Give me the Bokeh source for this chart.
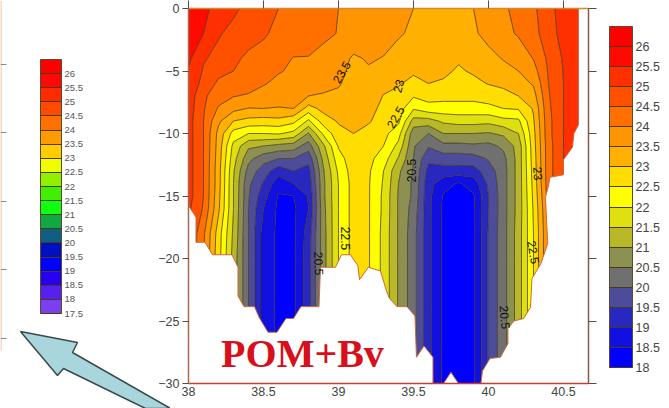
from bokeh.plotting import figure
from bokeh.embed import file_html
from bokeh.resources import INLINE
from bokeh.core.properties import value
from bokeh.models import (ColorBar, LinearColorMapper, FixedTicker, LinearAxis, Range1d,
                          NumeralTickFormatter, ColumnDataSource)
import numpy as np

lons = [38.0, 38.1, 38.2, 38.3, 38.4, 38.5, 38.6, 38.7, 38.8, 38.9, 39.0, 39.1, 39.2, 39.3,
        39.4, 39.5, 39.6, 39.7, 39.8, 39.9, 40.0, 40.1, 40.2, 40.3, 40.4, 40.5, 40.6]
depths = [0, -2, -4, -5, -6, -7, -8, -9, -10, -11, -12, -13, -14, -15, -16, -18, -20, -24, -30]

T_380 = [25.8,25.8,25.6,25.45,25.35,25.3,25.25,25.2,25.2,25.2,25.2,25.2,25.2,25.2,25.1,25,25,25,25]
T_381 = [25.6,25.5,25.05,24.95,24.85,24.6,24.55,24.5,24.5,24.5,24.5,24.5,24.5,24.5,24.45,24.1,24,24,24]
T_382 = [25.35,25.05,24.85,24.65,24.4,24.2,23.95,23.6,23.35,23.3,23.25,23.2,23.2,23.15,23.1,22.75,22.7,22.7,22.7]
T_383 = [25.1,24.85,24.6,24.5,24.3,24.02,23.65,23,22.3,21.85,21.7,21.55,21.5,21.5,21.5,21.4,21.3,21.3,21.3]
T_384 = [24.85,24.7,24.4,24.35,24.2,23.95,23.48,22.85,22,21.1,20.65,20.3,20.1,20.05,20,20,20,20,20]
T_385 = [24.7,24.55,24.35,24.2,24.05,23.75,23.5,22.8,22,21,20.2,19.75,19.45,19.2,19,18.8,18.8,18.8,18.8]
T_386 = [24.5,24.4,24.15,24.05,23.85,23.65,23.48,22.85,22.05,20.85,20,19.2,18.7,18.45,18.4,18.4,18.4,18.4,18.4]
T_387 = [24.4,24.3,23.98,23.9,23.75,23.6,23.5,22.65,21.85,20.75,20,19.5,19.0,18.5,18.4,18.4,18.4,18.4,18.4]
T_388 = [24.25,24.2,23.98,23.85,23.65,23.5,22.8,21.9,20.95,20.25,19.65,19.35,19.2,19.05,19,19.25,19.3,19.3,19.3]
T_389 = [24.12,24.1,23.85,23.8,23.65,23.45,23.15,22.75,22.1,21.4,21.15,20.95,20.9,20.9,20.85,20.8,20.8,20.8,20.8]
T_390 = [24,23.98,23.75,23.65,23.55,23.4,23.2,23.05,22.85,22.55,22.3,22.1,22,22,22,22,22,22,22]
T_391 = [23.9,23.88,23.42,23.35,23.3,23.25,23.2,23.1,23,22.9,22.8,22.75,22.7,22.7,22.7,22.7,22.7,22.7,22.7]
T_392 = [23.8,23.78,23.55,23.45,23.35,23.3,23.2,23.05,22.85,22.8,22.65,22.58,22.55,22.55,22.55,22.55,22.55,22.55,22.55]
T_393 = [23.7,23.68,23.48,23.3,23.15,22.98,22.85,22.8,22.65,22.5,22.25,22,21.95,21.9,21.9,21.85,21.85,21.85,21.85]
T_394 = [23.6,23.55,23.32,23.18,23.05,22.85,22.75,22.6,22.2,21.85,21.45,21.1,21,20.95,20.95,20.95,20.95,20.95,20.95]
T_395 = [23.5,23.42,23.2,23.08,22.85,22.55,22.05,21.3,20.7,20.55,20.5,20.45,20.4,20.4,20.3,20.2,20.2,20.2,20.2]
T_396 = [23.4,23.35,23.2,23.1,23,22.7,22.3,21.3,20.5,20.05,19.6,19.35,19.2,19.15,19.15,19.15,19.15,19.15,19.15]
T_397 = [23.35,23.3,23.17,23.08,22.95,22.65,22.3,21.6,21,20.35,19.75,19.3,18.7,18.45,18.4,18.4,18.4,18.4,18.4]
T_398 = [23.4,23.35,23.05,22.95,22.85,22.65,22.3,21.7,21,20.35,19.75,19.3,18.45,18.3,18.2,18.2,18.2,18.2,18.2]
T_399 = [23.5,23.43,23.2,23.05,22.9,22.65,22.3,21.7,21,20.4,19.8,19.3,18.7,18.45,18.4,18.4,18.4,18.4,18.4]
T_400 = [23.75,23.65,23.35,23.15,23.02,22.75,22.35,21.65,20.95,20.35,20.05,19.75,19.6,19.5,19.5,19.55,19.55,19.55,19.55]
T_401 = [23.9,23.87,23.53,23.35,23.1,22.85,22.5,21.85,21.1,20.6,20.35,20.3,20.3,20.3,20.3,20.3,20.3,20.3,20.3]
T_402 = [24.2,24.05,23.7,23.5,23.3,23,22.55,21.9,21.5,21.2,21.2,21.2,21.2,21.2,21.2,21.25,21.25,21.25,21.25]
T_403 = [24.4,24.35,24.02,23.8,23.55,23.3,23.05,22.95,22.85,22.8,22.75,22.7,22.65,22.6,22.55,22.5,22.5,22.5,22.5]
T_404 = [24.85,24.75,24.6,24.55,24.5,24.45,24.4,24.35,24.35,24.3,24.3,24.3,24.3,24.2,24.1,24,24,24,24]
T_405 = [25.2,25.2,25.05,25.02,25,25,25,25,25,25,25,25,25,25,25,25,25,25,25]
T_406 = [25.4,25.4,25.4,25.4,25.4,25.4,25.4,25.4,25.4,25.4,25.4,25.4,25.4,25.4,25.4,25.4,25.4,25.4,25.4]

# limit of the sampled section (blank below it)
floor_left_x = [38.0, 38.0, 38.05, 38.05, 38.11, 38.16, 38.29, 38.33, 38.33, 38.37, 38.44, 38.47, 38.53, 38.59,
                38.65, 38.70, 38.75, 38.87, 38.88, 38.98, 39.02, 39.08, 39.13, 39.14, 39.2, 39.28, 39.32, 39.34,
                39.39, 39.457, 39.51, 39.52, 39.57, 39.63, 39.63]
floor_left_z = [-30, -15.76, -16.7, -18.7, -18.7, -19.7, -19.7, -20.7, -23, -23.85, -23.85, -24.7, -25.9, -25.9,
                -24.8, -24.8, -23.85, -23.85, -20.7, -20.7, -19.7, -19.7, -20.6, -21.7, -20.7, -21, -22.6, -23.2,
                -23.85, -23.85, -24.6, -27.9, -27, -27.9, -30]
floor_mid_x = [39.70, 39.75, 39.80]
floor_mid_z = [-30, -29.1, -30]
floor_right_x = [39.95, 39.96, 40.01, 40.08, 40.13, 40.13, 40.17, 40.235, 40.28, 40.29, 40.35, 40.395, 40.38,
                 40.40, 40.41, 40.50, 40.50, 40.56, 40.57, 40.60, 40.60, 40.667, 40.667]
floor_right_z = [-30, -29, -28, -27.9, -26.8, -25.6, -25, -24.8, -23.9, -21.6, -20.4, -18.8, -15.1,
                 -14.2, -13.5, -13.3, -12.1, -11.1, -10, -9.3, 0, 0, -30]

levels = [18, 18.5, 19, 19.5, 20, 20.5, 21, 21.5, 22, 22.5, 23, 23.5, 24, 24.5, 25, 25.5, 26, 26.5]
band_colors = ["#0000ff", "#1010e0", "#2828c0", "#4c4c9a", "#707070", "#8c9050", "#b8b828", "#e0e010", "#ffff00",
               "#ffdd00", "#ffb000", "#ff9500", "#ff7000", "#ff5000", "#ff3000", "#ff0a00", "#ff0000"]

left_levels = [17.5, 18, 18.5, 19, 19.5, 20, 20.5, 21, 21.5, 22, 22.5, 23, 23.5, 24, 24.5, 25, 25.5, 26, 26.5]
left_colors = ["#7a40f0", "#5520f0", "#2800f0", "#0000ff", "#0010c0", "#105f80", "#10a840", "#10ff10", "#40f000",
               "#90f000", "#f0ff00", "#ffcc00", "#ff9a00", "#ff7000", "#ff4a00", "#ff2a00", "#ff0808", "#ff0000"]

label_texts = ["23.5", "23", "22.5", "20.5", "22.5", "20.5", "23", "22.5", "20.5"]
label_x = [39.02, 39.40, 39.38, 39.49, 39.05, 38.87, 40.33, 40.30, 40.11]
label_z = [-5.1, -6.2, -8.7, -12.96, -18.4, -20.4, -13.2, -19.5, -24.7]
label_angle = [60, 75, 60, 90, -90, -88, -85, -80, -85]

x_ticks = [38, 38.5, 39, 39.5, 40, 40.5]
z_ticks = [0, -5, -10, -15, -20, -25, -30]

# decoration in the left strip, in page pixels
arrow_x = [20, 77, 72, 170, 145, 63, 57]
arrow_y = [331, 342, 352, 408, 408, 368, 375]
edge_tick_y = [64, 132, 201, 269, 338]

TICK_COLOR = "#5a4a44"
FONT = "Liberation Sans"
STRIP_W = 155
PAGE_H = 400

p = figure(width=661, height=PAGE_H, output_backend="svg", toolbar_location=None,
           x_range=Range1d(38, 40.667), y_range=Range1d(-30, 0),
           min_border_left=188, min_border_right=73, min_border_top=8, min_border_bottom=17,
           outline_line_color=None, margin=0)
p.grid.visible = False

columns = [T_380, T_381, T_382, T_383, T_384, T_385, T_386, T_387, T_388, T_389, T_390, T_391, T_392, T_393,
           T_394, T_395, T_396, T_397, T_398, T_399, T_400, T_401, T_402, T_403, T_404, T_405, T_406]
grid = np.array(columns).T[::-1]
p.contour(lons, depths[::-1], grid, levels=levels, fill_color=band_colors,
          line_color="#3a2a10", line_width=0.7)

for fx, fz in [(floor_left_x, floor_left_z), (floor_mid_x, floor_mid_z), (floor_right_x, floor_right_z)]:
    p.patch(fx, fz, fill_color="white", line_color="#c86a40", line_width=1)

p.text(x="x", y="y", text="t", angle="a", angle_units="deg",
       source=ColumnDataSource(dict(x=label_x, y=label_z, t=label_texts, a=label_angle)),
       text_font=value(FONT), text_font_size="12px", text_font_style="normal", text_color="#111111",
       text_align="center", text_baseline="middle")
p.text(x=[38.76], y=[-27.6], text=["POM+Bv"], text_font=value("Liberation Serif"), text_font_size="40px",
       text_font_style="bold", text_color="#d8101c", text_align="center", text_baseline="middle")

p.xaxis.ticker = FixedTicker(ticks=x_ticks)
p.yaxis.ticker = FixedTicker(ticks=z_ticks)
for ax in (p.xaxis[0], p.yaxis[0]):
    ax.major_label_text_font = FONT
    ax.major_label_text_font_size = "12.5px"
    ax.major_label_text_color = "#444444"
    ax.minor_tick_line_color = None
    ax.major_tick_in = 0
    ax.major_label_standoff = 3
p.xaxis.formatter = NumeralTickFormatter(format="0.[0]")
p.xaxis.major_tick_out = 0
p.xaxis.axis_line_color = "#c8402c"
p.xaxis.axis_line_width = 1.5
p.yaxis.major_tick_out = 6
p.yaxis.major_tick_line_color = TICK_COLOR
p.yaxis.axis_line_color = "#a8684c"
p.yaxis.axis_line_width = 1.5

top_axis = LinearAxis(ticker=FixedTicker(ticks=x_ticks), major_label_text_color=None, major_label_text_font_size="0px",
                      major_tick_out=8, major_tick_in=0, minor_tick_line_color=None,
                      major_tick_line_color=TICK_COLOR, axis_line_color="#d08a30", axis_line_width=1.5,
                      major_label_standoff=0)
p.add_layout(top_axis, "above")
right_axis = LinearAxis(ticker=FixedTicker(ticks=z_ticks), major_label_text_color=None, major_label_text_font_size="0px",
                        major_tick_out=8, major_tick_in=0, minor_tick_line_color=None,
                        major_tick_line_color=TICK_COLOR, major_tick_line_width=1, axis_line_color="#8a5a4a",
                        axis_line_width=1.5, major_label_standoff=0)
p.add_layout(right_axis, "right")

def bar(levs, cols, x, y, w, h, size, color):
    return ColorBar(color_mapper=LinearColorMapper(palette=cols, low=levs[0], high=levs[-1]),
                    ticker=FixedTicker(ticks=levs[:-1]), formatter=NumeralTickFormatter(format="0.[0]"),
                    location=(x, y), width=w, height=h, padding=0, margin=0,
                    major_tick_in=w, major_tick_out=0, major_tick_line_color="#4a3a10", major_tick_line_width=1,
                    minor_tick_line_color=None, bar_line_color="#5a4a30",
                    major_label_text_font=FONT, major_label_text_font_size=size, major_label_text_color=color,
                    label_standoff=3, background_fill_color=None, border_line_color=None)

p.add_layout(bar(levels, band_colors, 421, 16, 23, 341, "12.5px", "#444444"), "center")

# overlay strip: the second colour scale, the pointer arrow and the edge of a neighbouring panel
q = figure(width=STRIP_W + 15, height=408, output_backend="svg", toolbar_location=None,
           x_range=Range1d(0, STRIP_W + 15), y_range=Range1d(408, 0), min_border=0,
           outline_line_color=None, x_axis_location=None, y_axis_location=None, margin=0,
           background_fill_color=None, border_fill_color=None,
           styles={"position": "absolute", "left": "0px", "top": "0px"})
q.grid.visible = False
q.patch(arrow_x, arrow_y, fill_color="#a9d5dc", line_color="#3a4a4a", line_width=1.5)
q.rect(x=[0.5], y=[175], width=1, height=350, fill_color="#f4b090", line_color=None)
q.segment(x0=[0] * len(edge_tick_y), x1=[6] * len(edge_tick_y), y0=edge_tick_y, y1=edge_tick_y,
          line_color="#888888", line_width=1)
q.add_layout(bar(left_levels, left_colors, 40, 408 - 313, 21, 254, "9.5px", "#555555"), "center")

open("out.html", "w").write(file_html([p, q], INLINE))
